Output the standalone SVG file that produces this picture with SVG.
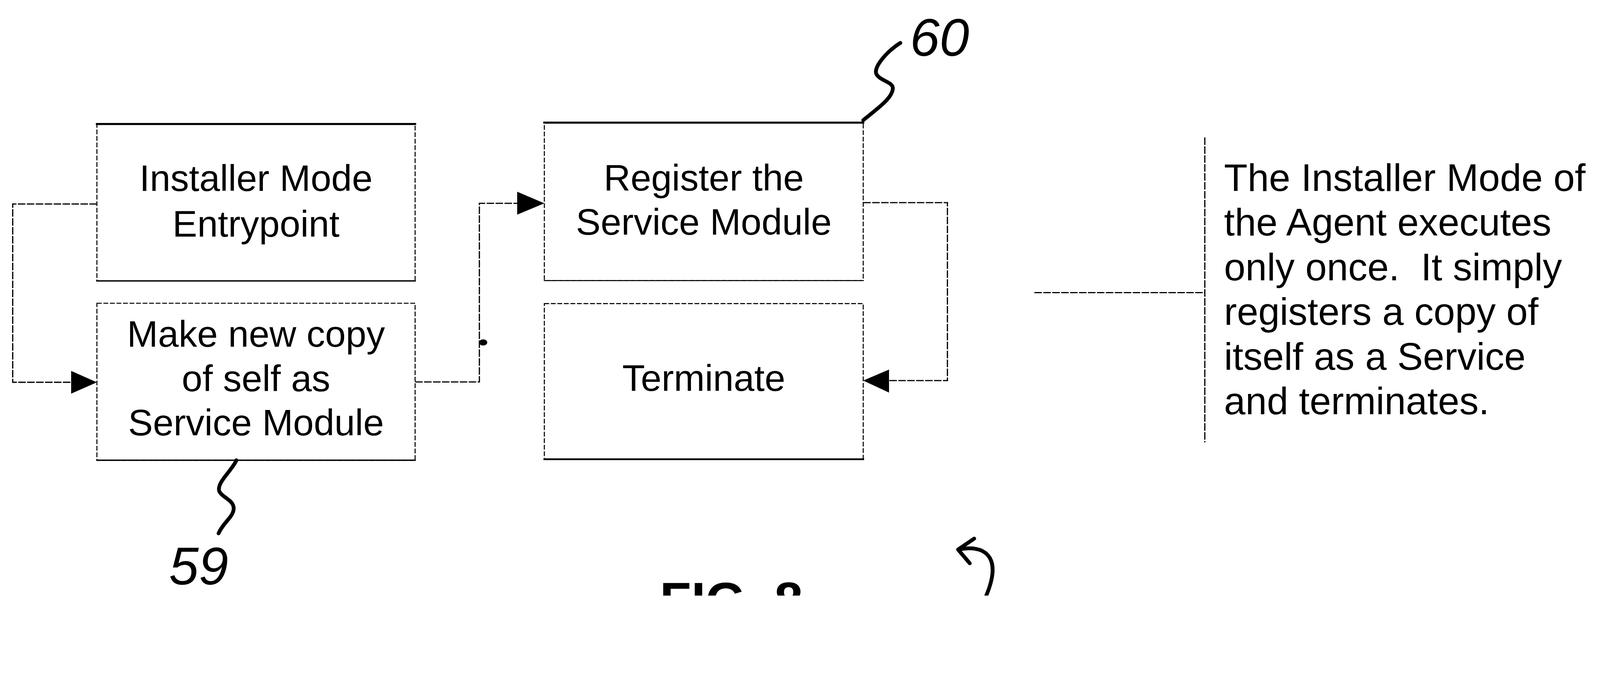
<svg xmlns="http://www.w3.org/2000/svg" width="4656" height="1734" viewBox="0 0 4656 1734" preserveAspectRatio="xMidYMin meet">
<style>
  svg { width: 100%; height: 100%; }
  .box { fill: #ffffff; stroke: #000; stroke-width: 3; stroke-dasharray: 14 5; }
  .edge { stroke: #000; fill: none; stroke-linecap: square; }
  .conn { stroke: #000; stroke-width: 3.5; fill: none; stroke-dasharray: 22 4; }
  .head { fill: #000; }
  .lbl { font-family: "Liberation Sans", Arial, sans-serif; font-size: 108px; fill: #000; text-anchor: middle; }
  .note { font-family: "Liberation Sans", Arial, sans-serif; font-size: 112px; fill: #000; }
  .hand { font-family: "Liberation Sans", Arial, sans-serif; font-style: italic; font-size: 155px; fill: #000; }
  .lead { stroke: #000; stroke-width: 11; fill: none; stroke-linecap: round; stroke-linejoin: round; }
  .fig { font-family: "Liberation Sans", Arial, sans-serif; font-weight: bold; font-size: 150px; fill: #000; }
</style>
<defs>
  <clipPath id="page"><rect x="0" y="0" width="4656" height="1734"/></clipPath>
</defs>
<g clip-path="url(#page)">
<rect width="4656" height="1734" fill="#ffffff"/>

<g id="connectors">
  <path class="conn" d="M 282 594 H 37 V 1113 H 210"/>
  <polygon class="head" points="282,1113 207,1080 207,1146"/>
  <path class="conn" d="M 1208 1112 H 1395 V 592 H 1508"/>
  <polygon class="head" points="1584,592 1505,558 1505,625"/>
  <ellipse class="head" cx="1406" cy="997" rx="12" ry="9"/>
  <path class="conn" d="M 2512 590 H 2757 V 1108 H 2585"/>
  <polygon class="head" points="2512,1108 2587,1076 2587,1143"/>
  <path class="conn" d="M 3010 852 H 3505"/>
  <path class="conn" d="M 3506 400 V 1288"/>
</g>

<g id="node-installer-entry">
  <rect class="box" x="282" y="361" width="926" height="457"/>
  <path class="edge" stroke-width="6" d="M 282 361 H 1208"/>
  <path class="edge" stroke-width="4" d="M 282 818 H 1208"/>
  <text class="lbl" x="745" y="556">Installer Mode</text>
  <text class="lbl" x="745" y="689">Entrypoint</text>
</g>

<g id="node-make-copy">
  <rect class="box" x="282" y="883" width="926" height="457"/>
  <path class="edge" stroke-width="4" d="M 282 1340 H 1208"/>
  <text class="lbl" x="745" y="1009">Make new copy</text>
  <text class="lbl" x="745" y="1139">of self as</text>
  <text class="lbl" x="745" y="1268">Service Module</text>
</g>

<g id="node-register">
  <rect class="box" x="1584" y="357" width="928" height="460"/>
  <path class="edge" stroke-width="6" d="M 1584 357 H 2512"/>
  <path class="edge" stroke-width="3" d="M 1584 817 H 2512"/>
  <text class="lbl" x="2048" y="555">Register the</text>
  <text class="lbl" x="2048" y="683">Service Module</text>
</g>

<g id="node-terminate">
  <rect class="box" x="1584" y="884" width="928" height="453"/>
  <path class="edge" stroke-width="5" d="M 1584 1337 H 2512"/>
  <text class="lbl" x="2048" y="1138">Terminate</text>
</g>

<g id="note">
  <text class="note" x="3562" y="556">The Installer Mode of</text>
  <text class="note" x="3562" y="686">the Agent executes</text>
  <text class="note" x="3562" y="816">only once.&#160; It simply</text>
  <text class="note" x="3562" y="946">registers a copy of</text>
  <text class="note" x="3562" y="1076">itself as a Service</text>
  <text class="note" x="3562" y="1206">and terminates.</text>
</g>

<g id="ref-60">
  <path class="lead" d="M 2512 350 C 2550 318 2600 285 2598 255 C 2596 238 2560 235 2550 215 C 2542 195 2580 150 2620 125"/>
  <text class="hand" x="2648" y="163">60</text>
</g>

<g id="ref-59">
  <path class="lead" d="M 688 1340 C 675 1370 630 1405 638 1430 C 645 1448 680 1455 680 1480 C 680 1505 650 1520 636 1553"/>
  <text class="hand" x="492" y="1702">59</text>
</g>

<g id="figure-label">
  <text class="fig" x="1920" y="1800">FIG. 8</text>
  <path class="lead" stroke-width="9" d="M 2790 1600 C 2860 1585 2920 1615 2870 1734"/>
  <path class="lead" stroke-width="9" d="M 2835 1568 L 2788 1600 L 2822 1640"/>
</g>
</g>
</svg>
